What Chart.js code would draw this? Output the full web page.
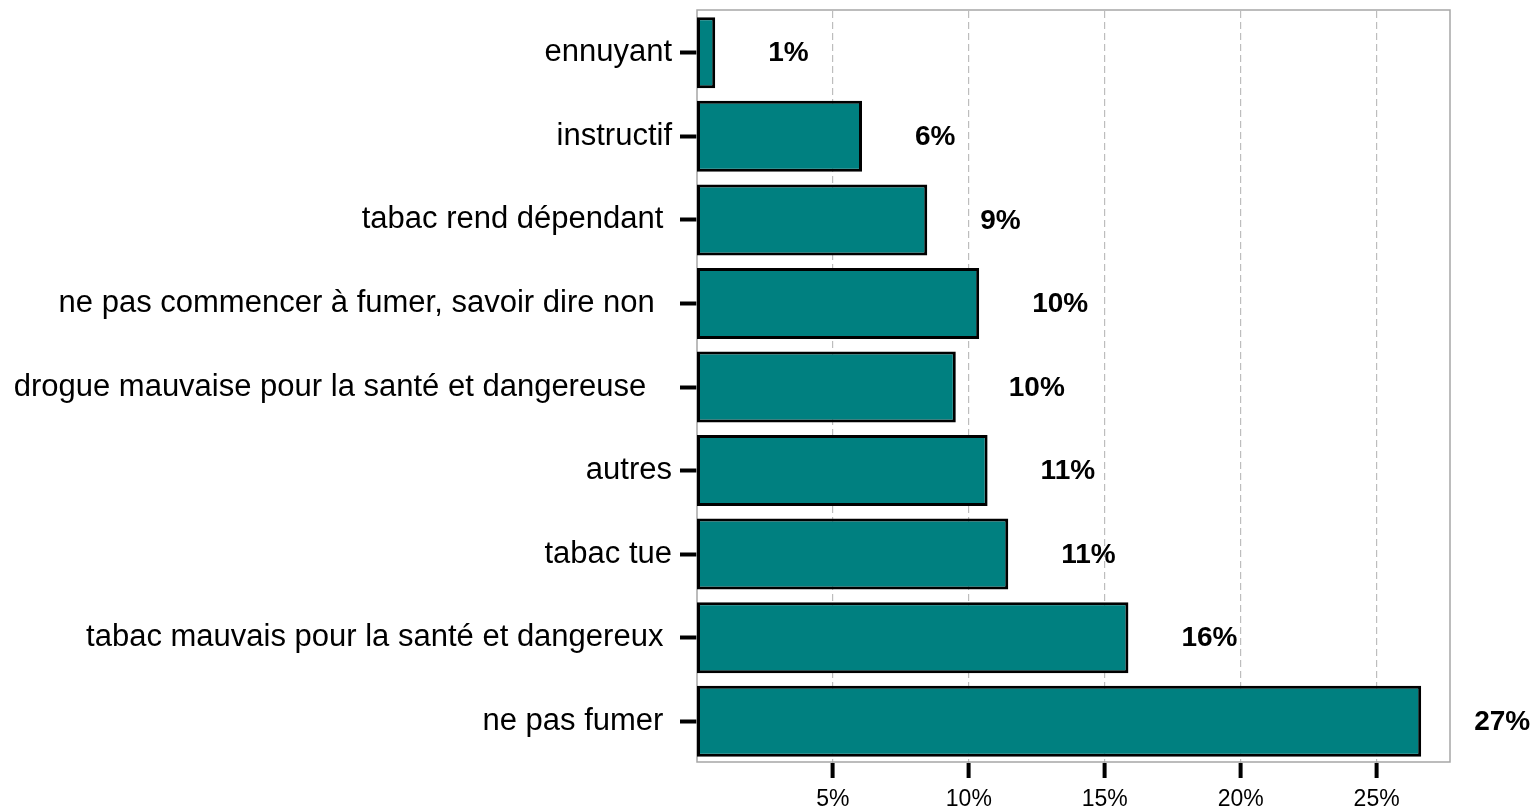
<!DOCTYPE html>
<html>
<head>
<meta charset="utf-8">
<script src="https://cdn.jsdelivr.net/npm/chart.js@4"></script>
<style>
  body { margin: 0; background: #fff; }
  canvas { display: block; }
</style>
</head>
<body>
<canvas id="chart" width="1533" height="811"></canvas>
<script>
const FONT = "'Liberation Sans', Arial, sans-serif";

// categories (top to bottom), trailing spaces kept as in the original labels
const categories = [
  "ennuyant",
  "instructif",
  "tabac rend dépendant ",
  "ne pas commencer à fumer, savoir dire non  ",
  "drogue mauvaise pour la santé et dangereuse   ",
  "autres",
  "tabac tue",
  "tabac mauvais pour la santé et dangereux ",
  "ne pas fumer "
];

// bar lengths in percent
const values = [0.67, 6.07, 8.47, 10.38, 9.52, 10.69, 11.45, 15.87, 26.64];

// printed labels next to each bar
const valueLabels = ["1%", "6%", "9%", "10%", "10%", "11%", "11%", "16%", "27%"];

const xTicks = [5, 10, 15, 20, 25];

const frameAndLabels = {
  id: "frameAndLabels",
  beforeDatasetsDraw(chart) {
    const { ctx, chartArea: a } = chart;
    ctx.save();
    ctx.strokeStyle = "#a6a6a6";
    ctx.lineWidth = 1.5;
    ctx.strokeRect(a.left, a.top - 1, a.right - a.left, a.bottom - a.top);
    ctx.restore();
  },
  afterDatasetsDraw(chart) {
    const ctx = chart.ctx;
    const meta = chart.getDatasetMeta(0);
    ctx.save();
    ctx.font = "bold 28px " + FONT;
    ctx.fillStyle = "#000";
    ctx.textAlign = "left";
    ctx.textBaseline = "middle";
    meta.data.forEach((bar, i) => {
      ctx.fillText(valueLabels[i], bar.x + 53, bar.y + 1);
    });
    ctx.restore();
  }
};

new Chart(document.getElementById("chart"), {
  type: "bar",
  data: {
    labels: categories,
    datasets: [{
      data: values,
      backgroundColor: "#008080",
      borderColor: "#000",
      borderWidth: 3,
      borderSkipped: false,
      categoryPercentage: 0.85,
      barPercentage: 1
    }]
  },
  options: {
    indexAxis: "y",
    responsive: false,
    animation: false,
    layout: { padding: { top: 11, right: 83, bottom: 0, left: 0 } },
    plugins: {
      legend: { display: false },
      tooltip: { enabled: false }
    },
    scales: {
      x: {
        min: 0,
        max: 27.7,
        afterBuildTicks(scale) {
          scale.ticks = xTicks.map(v => ({ value: v }));
        },
        afterFit(scale) {
          scale.height = 48;
          scale.paddingLeft = 0;
          scale.paddingRight = 0;
        },
        border: { display: false, dash: [7, 4] },
        grid: {
          color: "#bdbdbd",
          lineWidth: 1.2,
          tickColor: "#000",
          tickWidth: 4,
          tickLength: 15
        },
        ticks: {
          color: "#000",
          font: { family: FONT, size: 23 },
          padding: 8,
          maxRotation: 0,
          callback: v => v + "%"
        }
      },
      y: {
        afterFit(scale) {
          scale.width = 697;
          scale.paddingTop = 0;
          scale.paddingBottom = 0;
        },
        border: { display: false },
        grid: {
          offset: false,
          drawOnChartArea: false,
          tickColor: "#000",
          tickWidth: 4,
          tickLength: 17
        },
        ticks: {
          color: "#000",
          font: { family: FONT, size: 31 },
          padding: 8,
          autoSkip: false
        }
      }
    }
  },
  plugins: [frameAndLabels]
});
</script>
</body>
</html>
